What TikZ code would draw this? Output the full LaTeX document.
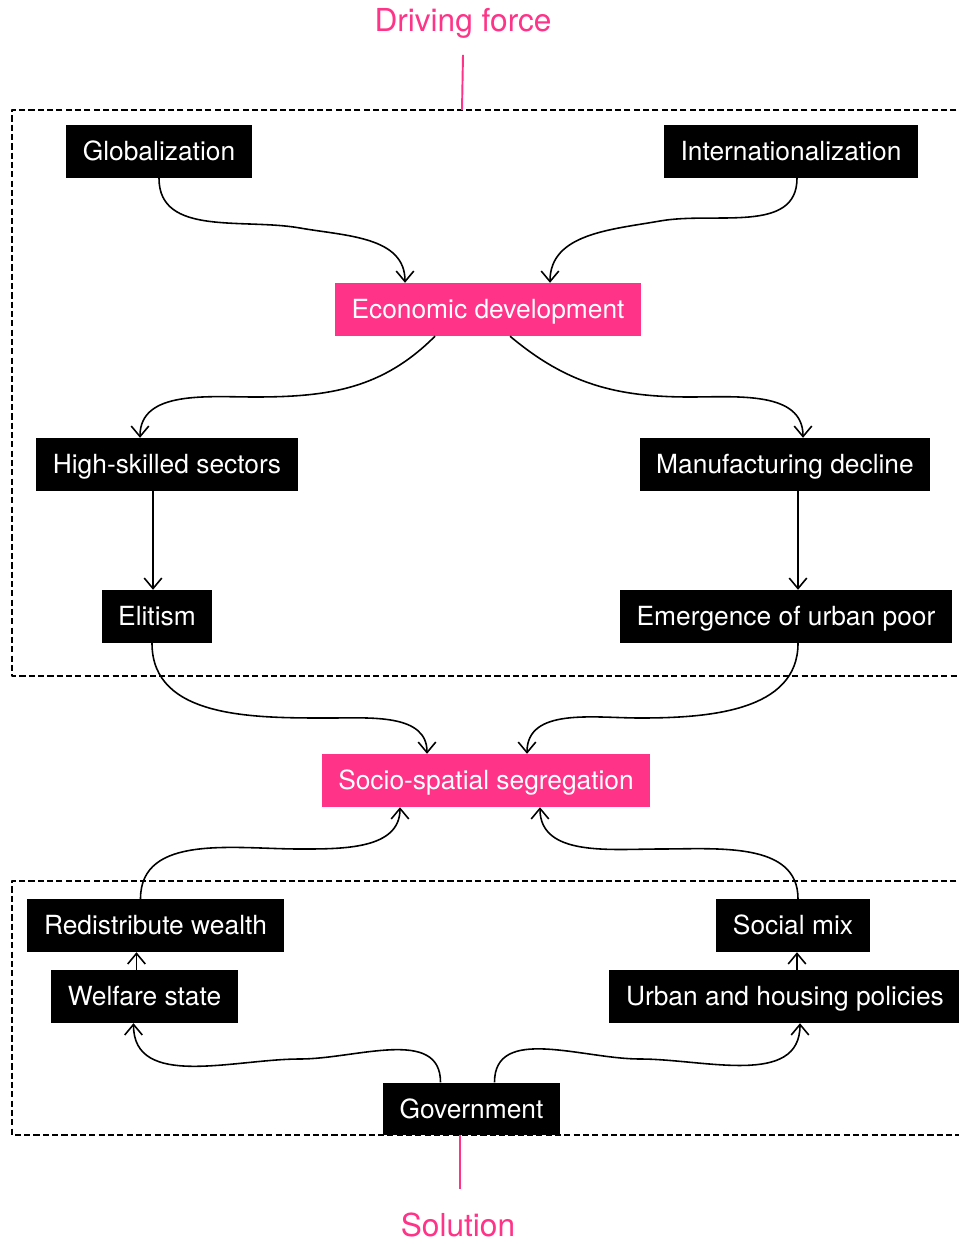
\documentclass[tikz,border=0pt]{standalone}
\usepackage{fontspec}
\setmainfont{TeX Gyre Heros}
\usetikzlibrary{arrows.meta,calc}
\definecolor{hotpink}{HTML}{FF3388}

\begin{document}
\begin{tikzpicture}[x=0.02cm, y=-0.02cm, line join=round,
    >={Straight Barb[length=6pt,width=10pt]},
    darkbox/.style={fill=black, text=white, inner xsep=9.5pt, minimum height=30pt,
        text height=10.8pt, text depth=0pt, font=\fontsize{15}{18}\selectfont},
    pinkbox/.style={darkbox, fill=hotpink},
    heading/.style={text=hotpink, font=\fontsize{18}{22}\selectfont},
    flow/.style={->, line width=0.9pt},
    frame/.style={dash pattern=on 3.5pt off 1.8pt, line width=0.8pt},
    pinkline/.style={hotpink, line width=1.1pt}]
    \useasboundingbox (0,0) rectangle (959,1244);

    % Dashed frames (right side runs off the page)
    \draw[frame] (975,110) -- (12,110) -- (12,676) -- (975,676);
    \draw[frame] (975,881) -- (12,881) -- (12,1135) -- (975,1135);
    \coordinate (topframe) at (462,110);
    \coordinate (botframe) at (460,1135);

    % Headings
    \node[heading] (drive) at (463,23) {Driving force};
    \node[heading] (sol) at (458,1225) {Solution};

    % Driving force boxes
    \node[darkbox] (glob) at (159,151.5) {Globalization};
    \node[darkbox] (intl) at (791,151.5) {Internationalization};
    \node[pinkbox] (eco) at (488,309.5) {Economic development};
    \node[darkbox] (high) at (167,464.5) {High-skilled sectors};
    \node[darkbox] (manu) at (785,464.5) {Manufacturing decline};
    \node[darkbox] (elit) at (157,616.5) {Elitism};
    \node[darkbox] (emer) at (786,616.5) {Emergence of urban poor};

    % Outcome
    \node[pinkbox] (seg) at (486,780.5) {Socio-spatial segregation};

    % Solution boxes
    \node[darkbox] (redis) at (155.5,925.5) {Redistribute wealth};
    \node[darkbox] (social) at (793,925.5) {Social mix};
    \node[darkbox] (welfare) at (144.5,996.5) {Welfare state};
    \node[darkbox] (urban) at (785,996.5) {Urban and housing policies};
    \node[darkbox] (gov) at (471.5,1109) {Government};

    % Pink ties to the frames
    \draw[pinkline] ([yshift=-6pt]drive.south) -- (topframe);
    \draw[pinkline] (botframe) -- ([yshift=10pt]sol.north -| botframe);

    % Upper connectors
    \draw[flow] (glob.south) to[out=-90,in=170] (300,228)
        to[out=-10,in=90] ($(eco.north)+(-83,0)$);
    \draw[flow] ($(intl.south)+(6,0)$) to[out=-90,in=10] (660,221)
        to[out=190,in=90] ($(eco.north)+(62,0)$);
    \draw[flow] ($(eco.south)+(-53,0)$) to[out=-135,in=0] (255,397)
        to[out=180,in=90] ($(high.north)+(-27,0)$);
    \draw[flow] ($(eco.south)+(22,0)$) to[out=-40,in=180] (690,397)
        to[out=0,in=90] ($(manu.north)+(18,0)$);
    \draw[flow] ($(high.south)+(-14,0)$) -- ($(elit.north)+(-4,0)$);
    \draw[flow] ($(manu.south)+(13,0)$) -- ($(emer.north)+(12,0)$);
    \draw[flow] ($(elit.south)+(-5,0)$) to[out=-90,in=180] (330,718)
        to[out=0,in=90] ($(seg.north)+(-59,0)$);
    \draw[flow] ($(emer.south)+(12,0)$) to[out=-90,in=0] (640,718)
        to[out=180,in=90] ($(seg.north)+(41,0)$);

    % Lower connectors
    \draw[flow] ($(redis.north)+(-15,0)$) to[out=90,in=180] (300,849)
        to[out=0,in=-90] ($(seg.south)+(-86,0)$);
    \draw[flow] ($(social.north)+(5,0)$) to[out=90,in=0] (660,849)
        to[out=180,in=-90] ($(seg.south)+(54,0)$);
    \draw[flow] ($(welfare.north)+(-8,0)$) -- ($(redis.south)+(-19,0)$);
    \draw[flow] ($(urban.north)+(12,0)$) -- ($(social.south)+(4,0)$);
    \draw[flow] ($(gov.north)+(-31,0)$) to[out=90,in=0] (300,1059)
        to[out=180,in=-90] ($(welfare.south)+(-11,0)$);
    \draw[flow] ($(gov.north)+(23,0)$) to[out=90,in=180] (640,1059)
        to[out=0,in=-90] ($(urban.south)+(15,0)$);
\end{tikzpicture}
\end{document}
